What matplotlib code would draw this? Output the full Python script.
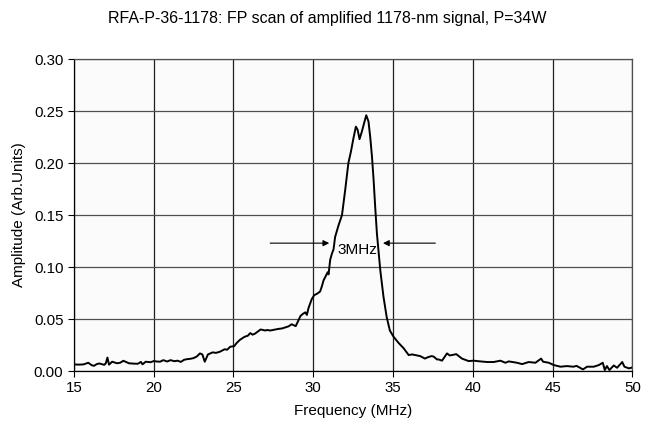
import matplotlib
matplotlib.use("Agg")
import matplotlib.pyplot as plt

# FP scan trace
freq = [15.0, 15.3, 15.6, 15.9, 16.1, 16.25, 16.45, 16.6, 16.9, 17.0,
        17.1, 17.2, 17.4, 17.7, 17.9, 18.1, 18.45, 18.7, 19.0, 19.2,
        19.3, 19.5, 19.8, 20.0, 20.2, 20.4, 20.6, 20.85, 21.05, 21.3,
        21.5, 21.7, 21.9, 22.1, 22.3, 22.5, 22.7, 22.9, 23.05, 23.2,
        23.4, 23.7, 23.9, 24.15, 24.45, 24.6, 24.8, 25.05, 25.2, 25.4,
        25.7, 25.9, 26.05, 26.2, 26.35, 26.7, 27.0, 27.1, 27.3, 27.55,
        27.8, 28.05, 28.25, 28.45, 28.65, 28.9, 29.05, 29.2, 29.35, 29.5,
        29.6, 29.7, 29.9, 30.06, 30.25, 30.43, 30.55, 30.64, 30.8, 30.9,
        30.96, 31.06, 31.17, 31.27, 31.37, 31.58, 31.8, 32.0, 32.2, 32.36,
        32.52, 32.67, 32.78, 32.9, 33.04, 33.2, 33.32, 33.46, 33.57, 33.68,
        33.78, 33.88, 33.99, 34.1, 34.2, 34.3, 34.4, 34.6, 34.8, 35.03,
        35.35, 35.66, 35.98, 36.2, 36.4, 36.7, 37.0, 37.13, 37.4, 37.54,
        37.75, 37.85, 38.07, 38.38, 38.55, 38.7, 38.96, 39.32, 39.74, 40.05,
        40.47, 40.9, 41.3, 41.73, 42.04, 42.25, 42.77, 43.09, 43.5, 43.92,
        44.28, 44.4, 44.76, 45.07, 45.49, 45.9, 46.3, 46.5, 46.9, 47.16,
        47.58, 47.9, 48.14, 48.27, 48.4, 48.56, 48.83, 49.04, 49.36, 49.5,
        49.78, 50.0]
amp = [0.0064, 0.0062, 0.0064, 0.0080, 0.0058, 0.0050, 0.0068, 0.0073, 0.0060, 0.0075,
       0.0130, 0.0062, 0.0090, 0.0075, 0.0080, 0.0099, 0.0075, 0.0072, 0.0070, 0.0088,
       0.0065, 0.0090, 0.0085, 0.0096, 0.0092, 0.0090, 0.0105, 0.0092, 0.0105, 0.0095,
       0.0100, 0.0088, 0.0108, 0.0115, 0.0118, 0.0125, 0.0140, 0.0170, 0.0160, 0.0090,
       0.0160, 0.0180, 0.0175, 0.0186, 0.0210, 0.0205, 0.0234, 0.0240, 0.0270, 0.0300,
       0.0330, 0.0340, 0.0365, 0.0350, 0.0360, 0.0400, 0.0390, 0.0395, 0.0390, 0.0398,
       0.0405, 0.0410, 0.0420, 0.0430, 0.0450, 0.0432, 0.0480, 0.0530, 0.0550, 0.0565,
       0.0540, 0.0605, 0.0690, 0.0730, 0.0745, 0.0765, 0.0820, 0.0870, 0.0920, 0.0950,
       0.0930, 0.1070, 0.1130, 0.1170, 0.1290, 0.1400, 0.1500, 0.1740, 0.2000, 0.2110,
       0.2240, 0.2350, 0.2320, 0.2230, 0.2300, 0.2390, 0.2460, 0.2400, 0.2250, 0.2060,
       0.1840, 0.1580, 0.1320, 0.1140, 0.0970, 0.0840, 0.0715, 0.0520, 0.0390, 0.0330,
       0.0270, 0.0220, 0.0154, 0.0160, 0.0154, 0.0144, 0.0120, 0.0130, 0.0144, 0.0140,
       0.0112, 0.0112, 0.0100, 0.0170, 0.0150, 0.0154, 0.0163, 0.0120, 0.0096, 0.0100,
       0.0093, 0.0087, 0.0087, 0.0100, 0.0080, 0.0093, 0.0080, 0.0067, 0.0087, 0.0080,
       0.0120, 0.0090, 0.0080, 0.0058, 0.0042, 0.0048, 0.0042, 0.0050, 0.0016, 0.0042,
       0.0042, 0.0058, 0.0080, 0.0010, 0.0048, 0.0010, 0.0054, 0.0032, 0.0087, 0.0042,
       0.0026, 0.0035]

x_ticks = [15, 20, 25, 30, 35, 40, 45, 50]
y_ticks = [0.00, 0.05, 0.10, 0.15, 0.20, 0.25, 0.30]

# FWHM markers
fwhm_level = 0.123
fwhm_left = 31.0
fwhm_right = 34.37
fwhm_text = "3MHz"

plt.rcParams['font.family'] = ['Liberation Sans', 'DejaVu Sans']

fig = plt.figure(figsize=(6.54, 4.28), dpi=100)
ax = fig.add_axes([0.113, 0.133, 0.854, 0.729])
ax.set_facecolor('#fbfbfb')

ax.plot(freq, amp, color='black', lw=1.4, zorder=3)

ax.set_xlim(15, 50)
ax.set_ylim(0, 0.30)
ax.set_xticks(x_ticks)
ax.set_yticks(y_ticks)
ax.set_xticklabels([str(v) for v in x_ticks])
ax.set_yticklabels(['%.2f' % v for v in y_ticks])
ax.tick_params(labelsize=10.8, length=4, width=0.8, color='black', pad=3.5)

ax.grid(axis='x', color='#202020', lw=0.9)
ax.grid(axis='y', color='#505050', lw=0.9)
for s in ['top', 'right']:
    ax.spines[s].set_color('#505050')
    ax.spines[s].set_linewidth(0.9)
for s in ['left', 'bottom']:
    ax.spines[s].set_linewidth(0.9)

# arrows pointing inward to the FWHM edges
ax.annotate('', xy=(fwhm_left, fwhm_level), xytext=(27.3, fwhm_level),
            arrowprops=dict(arrowstyle='-|>', color='black', lw=0.8,
                            mutation_scale=9, shrinkA=0, shrinkB=0))
ax.annotate('', xy=(fwhm_right, fwhm_level), xytext=(37.65, fwhm_level),
            arrowprops=dict(arrowstyle='-|>', color='black', lw=0.8,
                            mutation_scale=9, shrinkA=0, shrinkB=0))
ax.text(32.75, 0.116, fwhm_text, ha='center', va='center', fontsize=11, zorder=4)

ax.set_xlabel('Frequency (MHz)', fontsize=11, labelpad=6)
ax.set_ylabel('Amplitude (Arb.Units)', fontsize=11, labelpad=6)
fig.text(0.5, 0.956, 'RFA-P-36-1178: FP scan of amplified 1178-nm signal, P=34W',
         fontsize=11.5, ha='center', va='center')

fig.savefig('out.png', dpi=100)
